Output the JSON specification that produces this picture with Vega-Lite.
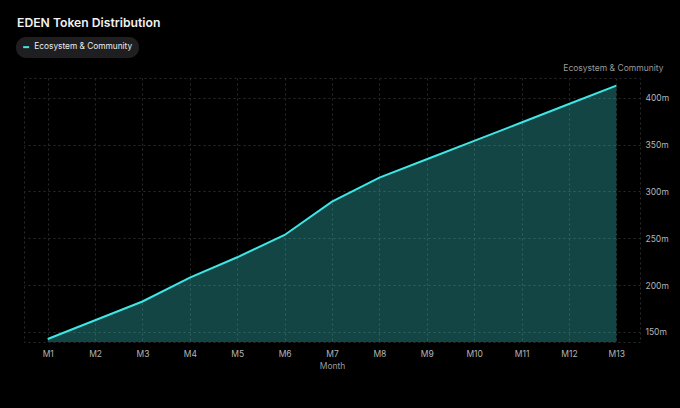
{
  "$schema": "https://vega.github.io/schema/vega-lite/v6.json",
  "width": 616,
  "height": 264,
  "autosize": {"type": "none"},
  "padding": {"left": 24, "top": 78, "right": 40, "bottom": 66},
  "background": "#000000",
  "title": {
    "text": "EDEN Token Distribution",
    "anchor": "start",
    "frame": "group",
    "orient": "top",
    "dx": -7,
    "offset": 8,
    "font": "Inter",
    "fontSize": 12.2,
    "fontWeight": 600,
    "color": "#f2f2f2"
  },
  "config": {
    "font": "Inter",
    "view": {"stroke": "#2a2a2a", "strokeDash": [2, 3]},
    "axis": {
      "gridColor": "#2a2a2a",
      "gridDash": [2, 3],
      "domain": false,
      "ticks": false,
      "labelColor": "#b5b5b5",
      "labelFontSize": 8.5,
      "titleColor": "#9a9a9a",
      "titleFontSize": 8.5,
      "titleFontWeight": 400
    },
    "legend": {
      "orient": "none",
      "legendX": -8,
      "legendY": -41,
      "fillColor": "#1f1f22",
      "cornerRadius": 10,
      "padding": 6,
      "labelColor": "#ededed",
      "labelFontSize": 8.3,
      "labelFont": "Inter",
      "labelOffset": 4,
      "symbolType": "stroke",
      "symbolStrokeWidth": 2,
      "symbolSize": 36
    }
  },
  "data": {
    "values": [
      {"month": "M1", "value": 142.5, "series": "Ecosystem & Community"},
      {"month": "M2", "value": 162.5, "series": "Ecosystem & Community"},
      {"month": "M3", "value": 182.5, "series": "Ecosystem & Community"},
      {"month": "M4", "value": 208, "series": "Ecosystem & Community"},
      {"month": "M5", "value": 229.7, "series": "Ecosystem & Community"},
      {"month": "M6", "value": 253.5, "series": "Ecosystem & Community"},
      {"month": "M7", "value": 289, "series": "Ecosystem & Community"},
      {"month": "M8", "value": 314.7, "series": "Ecosystem & Community"},
      {"month": "M9", "value": 334.3, "series": "Ecosystem & Community"},
      {"month": "M10", "value": 353.9, "series": "Ecosystem & Community"},
      {"month": "M11", "value": 373.5, "series": "Ecosystem & Community"},
      {"month": "M12", "value": 393.2, "series": "Ecosystem & Community"},
      {"month": "M13", "value": 412.8, "series": "Ecosystem & Community"}
    ]
  },
  "encoding": {
    "x": {
      "field": "month",
      "type": "ordinal",
      "sort": null,
      "scale": {"type": "point", "padding": 0.5},
      "axis": {"title": "Month", "labelAngle": 0, "labelPadding": 7, "titlePadding": 4, "grid": true}
    },
    "y": {
      "field": "value",
      "type": "quantitative",
      "scale": {"domain": [139.3, 421], "zero": false, "nice": false},
      "axis": {
        "orient": "right",
        "values": [150, 200, 250, 300, 350, 400],
        "labelExpr": "datum.value + 'm'",
        "labelPadding": 5,
        "title": "Ecosystem & Community",
        "titleAngle": 0,
        "titleAnchor": "end",
        "titleAlign": "right",
        "titleBaseline": "bottom",
        "titleX": 23,
        "titleY": -6
      }
    }
  },
  "layer": [
    {
      "mark": {"type": "area", "color": "#3fe6e6", "opacity": 0.3},
      "encoding": {"y2": {"datum": 139.3}}
    },
    {
      "mark": {"type": "line", "strokeWidth": 2},
      "encoding": {
        "color": {
          "field": "series",
          "type": "nominal",
          "scale": {"range": ["#3fe6e6"]},
          "legend": {"title": null}
        }
      }
    }
  ]
}
